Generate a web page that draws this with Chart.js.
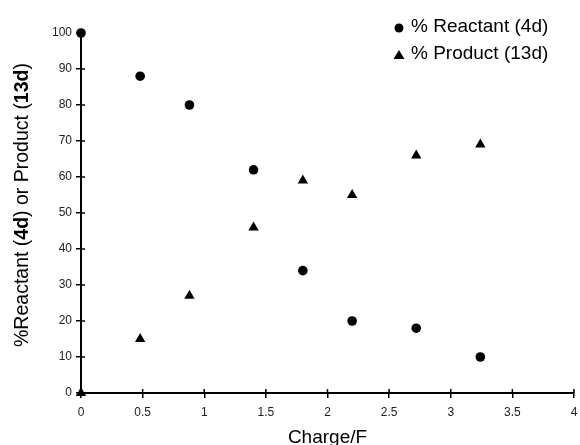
<!DOCTYPE html>
<html>
<head>
<meta charset="utf-8">
<script src="https://cdn.jsdelivr.net/npm/chart.js@4"></script>
<style>
  html, body { margin: 0; padding: 0; background: #fff; }
  #wrap { width: 580px; height: 445px; }
</style>
</head>
<body>
<div id="wrap"><canvas id="chart" width="580" height="445"></canvas></div>
<script>
// charge passed (F) and composition (%)
const charge = [0, 0.48, 0.88, 1.4, 1.8, 2.2, 2.72, 3.24];
const reactant = [100, 88, 80, 62, 34, 20, 18, 10];
const product = [0, 15, 27, 46, 59, 55, 66, 69];
const legendLabels = ['% Reactant (4d)', '% Product (13d)'];
const yTitleParts = [['%Reactant (', false], ['4d', true], [') or Product (', false], ['13d', true], [')', false]];
const xTitle = 'Charge/F';

const FONT = 'Arial, "Liberation Sans", Helvetica, sans-serif';

// tick marks also poke into the plot, like the original
const innerTicks = {
    id: 'innerTicks',
    afterDraw(chart) {
        const c = chart.ctx;
        const xs = chart.scales.x, ys = chart.scales.y;
        c.save();
        c.strokeStyle = '#000';
        c.lineWidth = 1.5;
        ys.ticks.forEach(t => {
            const py = ys.getPixelForValue(t.value);
            c.beginPath(); c.moveTo(xs.left, py); c.lineTo(xs.left + 4, py); c.stroke();
        });
        xs.ticks.forEach(t => {
            const px = xs.getPixelForValue(t.value);
            c.beginPath(); c.moveTo(px, ys.bottom); c.lineTo(px, ys.bottom - 4); c.stroke();
        });
        c.restore();
    }
};

// y title with bold compound numbers
const yTitle = {
    id: 'yTitle',
    afterDraw(chart) {
        const c = chart.ctx;
        const fontN = '19.5px ' + FONT, fontB = 'bold 19.5px ' + FONT;
        c.save();
        let total = 0;
        yTitleParts.forEach(p => { c.font = p[1] ? fontB : fontN; total += c.measureText(p[0]).width; });
        c.translate(23, 205);
        c.rotate(-Math.PI / 2);
        c.fillStyle = '#000';
        c.textBaseline = 'middle';
        let x = -total / 2;
        yTitleParts.forEach(p => {
            c.font = p[1] ? fontB : fontN;
            c.fillText(p[0], x, 0);
            x += c.measureText(p[0]).width;
        });
        c.restore();
    }
};

const legendBox = {
    id: 'legendBox',
    afterDraw(chart) {
        const c = chart.ctx;
        c.save();
        c.fillStyle = '#000';
        c.font = '19px ' + FONT;
        c.textBaseline = 'middle';
        c.beginPath(); c.arc(399, 28, 4.5, 0, Math.PI * 2); c.fill();
        c.fillText(legendLabels[0], 411, 27);
        c.beginPath(); c.moveTo(399, 50); c.lineTo(404.5, 59); c.lineTo(393.5, 59); c.closePath(); c.fill();
        c.fillText(legendLabels[1], 411, 53.5);
        c.restore();
    }
};

new Chart(document.getElementById('chart').getContext('2d'), {
    type: 'scatter',
    data: {
        datasets: [
            {
                label: legendLabels[0],
                data: charge.map((x, i) => ({ x: x, y: reactant[i] })),
                pointStyle: 'circle',
                pointRadius: 4.8,
                backgroundColor: '#000',
                borderColor: '#000',
                borderWidth: 0,
                clip: false
            },
            {
                label: legendLabels[1],
                data: charge.map((x, i) => ({ x: x, y: product[i] })),
                pointStyle: 'triangle',
                pointRadius: 6,
                backgroundColor: '#000',
                borderColor: '#000',
                borderWidth: 0,
                clip: false
            }
        ]
    },
    options: {
        responsive: false,
        animation: false,
        layout: { padding: { top: 33, right: 5, left: 0, bottom: 0 } },
        plugins: {
            legend: { display: false },
            tooltip: { enabled: false }
        },
        scales: {
            x: {
                type: 'linear',
                min: 0,
                max: 4,
                afterFit: s => { s.height = 52; s.paddingRight = 0; s.paddingLeft = 0; },
                border: { color: '#000', width: 2 },
                grid: { drawOnChartArea: false, tickLength: 5, color: '#000', lineWidth: 1.5 },
                ticks: {
                    stepSize: 0.5,
                    color: '#222',
                    font: { family: FONT, size: 12 },
                    padding: 7,
                    maxRotation: 0,
                    callback: v => String(v)
                },
                title: { display: true, text: xTitle, color: '#000', font: { family: FONT, size: 19 }, padding: { top: 6, bottom: -4 } }
            },
            y: {
                min: 0,
                max: 100,
                afterFit: s => { s.width = 81; },
                border: { color: '#000', width: 2 },
                grid: { drawOnChartArea: false, tickLength: 5, color: '#000', lineWidth: 1.5 },
                ticks: { stepSize: 10, color: '#222', font: { family: FONT, size: 12 }, padding: 4 }
            }
        }
    },
    plugins: [innerTicks, yTitle, legendBox]
});
</script>
</body>
</html>
